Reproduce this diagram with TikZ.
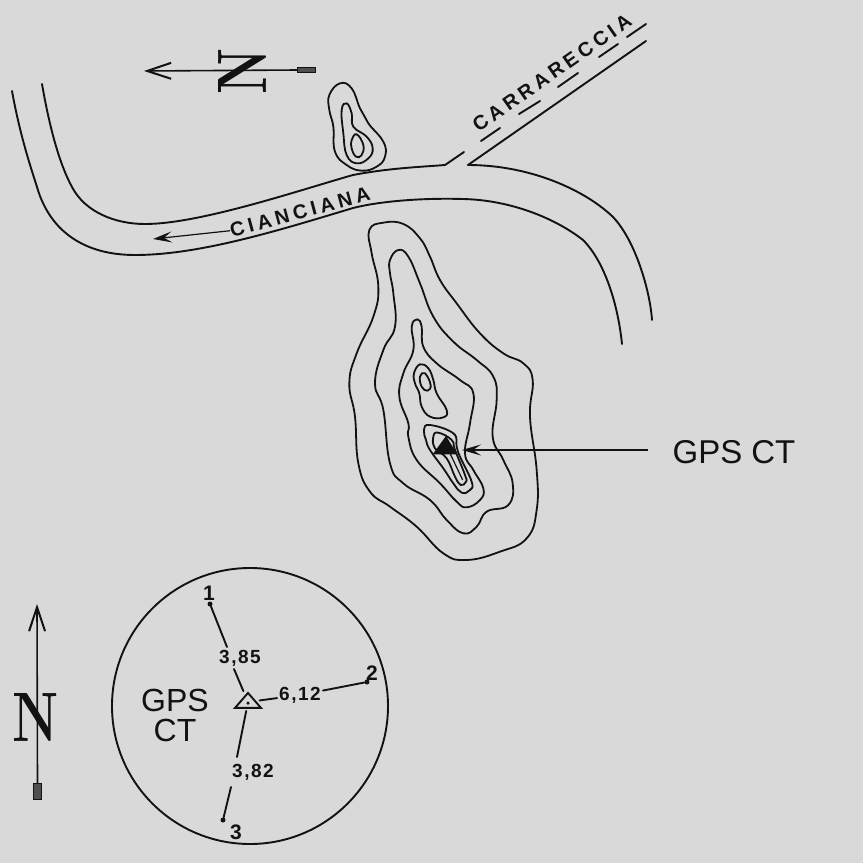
\documentclass[tikz,border=0pt]{standalone}
\usepackage{fontspec}
\usepackage{tikz}
\usetikzlibrary{arrows.meta,shapes.geometric}
\setmainfont{Liberation Sans}
\newfontfamily\spacedfont[LetterSpace=20]{Liberation Sans}
\newfontfamily\numfont[LetterSpace=8]{Liberation Sans}
\newfontfamily\northfont{Latin Modern Roman}
\definecolor{paper}{RGB}{217,217,217}
\definecolor{ink}{RGB}{18,18,18}

\begin{document}
\begin{tikzpicture}[x=1pt, y=-1pt]
\tikzset{line/.style={draw=ink, line width=1.9pt, line cap=round, tension=0.75}}
\tikzset{contour/.style={line, line width=1.8pt}}
\tikzset{thin line/.style={draw=ink, line width=1.2pt}}
\tikzset{road label/.style={text=ink, font=\spacedfont\bfseries\fontsize{20}{20}\selectfont, inner sep=0pt}}
\tikzset{big label/.style={text=ink, font=\fontsize{33}{33}\selectfont, inner sep=0pt, align=center}}
\tikzset{dist label/.style={text=ink, font=\numfont\bfseries\fontsize{19}{19}\selectfont, inner sep=2pt}}
\tikzset{point label/.style={text=ink, font=\bfseries\fontsize{21}{21}\selectfont, inner sep=0pt}}
\tikzset{point/.style={circle, fill=ink, inner sep=0pt, minimum size=5pt}}
\tikzset{north label/.style={text=ink, font=\northfont\bfseries\fontsize{70}{70}\selectfont, inner sep=0pt}}
\tikzset{feather/.style={fill=ink!70!paper, draw=ink, line width=0.6pt}}
\tikzset{barb/.style={-{Straight Barb[length=24pt, width=16pt, line width=2pt]}}}
\tikzset{solid tip/.style={-{Stealth[length=19pt, width=11pt, inset=8pt]}}}

\fill[paper] (0,0) rectangle (863,863);
\useasboundingbox (0,0) rectangle (863,863);

% roads
\draw[line] (42,84) .. controls (50,130) and (60,165) .. (72,187)
  .. controls (85,212) and (115,224) .. (145,224)
  .. controls (200,224) and (300,190) .. (353,175)
  .. controls (390,168) and (420,167) .. (445,165) -- (464,152);
\draw[line] (12,91) .. controls (20,135) and (30,165) .. (37,187)
  .. controls (50,232) and (85,255) .. (135,255)
  .. controls (200,255) and (280,230) .. (353,208)
  .. controls (385,200) and (430,198) .. (463,199)
  .. controls (510,200) and (555,218) .. (583,240)
  .. controls (605,262) and (618,305) .. (622,344);
\draw[line] (468,165) .. controls (530,165) and (585,190) .. (613,217)
  .. controls (635,240) and (650,290) .. (652,320);
\draw[line] (468,165) -- (646,41);
\foreach \xa/\ya/\xb/\yb in {481/141/500/128, 519/114/540/101, 558/87/578/73, 599/57/618/44, 627/37/646/24}
  \draw[line] (\xa,\ya) -- (\xb,\yb);

\node[road label, rotate=35] (carrareccia) at (552,73) {CARRARECCIA};
\node[road label, rotate=15] (cianciana) at (300,212) {CIANCIANA};
\coordinate (roadtip) at (153,239);
\draw[thin line, solid tip] (cianciana.west) -- (roadtip);

% small hill
\begin{scope}[shift={(120,20)}, scale=1/3]
\draw[contour] plot[smooth cycle] coordinates {(628,225) (660,190) (695,205) (720,265) (745,310)
  (790,365) (795,410) (770,440) (725,452) (680,435) (645,395) (640,320) (628,270)};
\draw[contour] plot[smooth cycle] coordinates {(665,270) (680,250) (695,280) (700,320) (740,350)
  (758,385) (745,415) (710,430) (680,405) (670,340)};
\draw[contour] plot[smooth cycle] coordinates {(710,343) (730,375) (725,405) (708,410) (695,385) (695,360)};
\end{scope}

% big hill
\begin{scope}[shift={(340,210)}, scale=1/3]
\draw[contour] plot[smooth cycle] coordinates {(88,60) (130,38) (190,42) (240,85) (270,140) (300,210)
  (350,280) (420,370) (490,430) (550,460) (578,510) (570,620) (590,780) (590,900) (560,985)
  (480,1025) (380,1050) (310,1030) (230,950) (150,890) (90,845) (55,760) (45,620) (28,520)
  (50,430) (100,320) (115,230) (95,130)};
\draw[contour] plot[smooth cycle] coordinates {(150,150) (175,120) (205,140) (240,220) (280,320)
  (340,395) (410,450) (460,500) (470,570) (458,680) (490,750) (518,820) (505,885) (440,905)
  (410,950) (370,970) (320,930) (270,870) (190,820) (150,760) (130,600) (105,520) (130,420)
  (165,350) (160,250) (150,190)};
\draw[contour] plot[smooth cycle] coordinates {(215,350) (232,328) (245,350) (250,410) (290,460)
  (360,510) (400,550) (390,640) (375,730) (400,780) (430,835) (420,870) (380,892) (350,875)
  (300,820) (230,750) (205,680) (205,640) (178,560) (190,490) (220,420)};
\draw[contour] plot[smooth cycle] coordinates {(222,490) (240,463) (265,475) (280,510) (290,550)
  (320,600) (310,622) (270,620) (245,590) (238,550) (225,520)};
\draw[contour] plot[smooth cycle] coordinates {(240,500) (255,490) (272,525) (262,542) (245,530)};
\draw[contour] plot[smooth cycle] coordinates {(252,660) (270,645) (340,670) (350,710) (360,740)
  (395,815) (390,840) (365,848) (340,820) (310,775) (270,720) (258,690)};
\draw[contour] plot[smooth cycle] coordinates {(280,680) (295,668) (335,690) (345,720) (375,795)
  (378,815) (362,825) (345,800) (320,745) (285,715)};
\fill[ink] (278,733) -- (318,678) -- (352,733) -- cycle;
\draw[thin line] (330,730) -- (368,810);
\end{scope}

% station label
\node[big label] (gpsct) at (734,452) {GPS CT};
\coordinate (station) at (462,450);
\coordinate (stationtail) at (648,450);
\draw[thin line, solid tip] (stationtail) -- (station);

% north signs
\node[north label, rotate=90, xscale=0.75] (northtop) at (242,71) {N};
\coordinate (toptip) at (144,71);
\node[feather, minimum width=18pt, minimum height=5pt, inner sep=0pt] (topfeather) at (306,70) {};
\draw[line, line width=1.6pt, barb] (topfeather.west) -- (toptip);

\node[north label, xscale=0.75] (northleft) at (36,717) {N};
\coordinate (lefttip) at (37,604);
\node[feather, minimum width=8pt, minimum height=16pt, inner sep=0pt] (leftfeather) at (37.5,791) {};
\draw[line, line width=1.6pt, barb] (leftfeather.north) -- (lefttip);

% station sketch
\node[draw=ink, line width=1.9pt, circle, minimum size=276pt, inner sep=0pt] (sketch) at (250,706) {};
\node[big label, font=\fontsize{32}{30}\selectfont] (gpsleft) at (175,715) {GPS\\CT};
\node[draw=ink, line width=1.9pt, isosceles triangle, isosceles triangle stretches,
  shape border rotate=90, minimum width=26pt, minimum height=15pt, inner sep=0pt, outer sep=3pt] (tri) at (248,702) {};
\node[point, minimum size=3.5pt] (tridot) at (248,703) {};

\node[point] (p1) at (210,604) {};
\node[point] (p2) at (367,682) {};
\node[point] (p3) at (223,820) {};
\node[point label] (n1) at (209,593) {1};
\node[point label] (n2) at (372,673) {2};
\node[point label] (n3) at (236,832) {3};

\node[dist label] (d1) at (240,658) {3,85};
\node[dist label] (d2) at (300,695) {6,12};
\node[dist label] (d3) at (253,772) {3,82};
\coordinate (d1low) at (234,669);
\coordinate (d1up) at (227,647);
\coordinate (d3low) at (231,787);
\coordinate (d3up) at (237,757);

\draw[line] (p1) -- (d1up);
\draw[line] (d1low) -- (tri);
\draw[line] (tri) -- (d2);
\draw[line] (d2) -- (p2);
\draw[line] (tri) -- (d3up);
\draw[line] (d3low) -- (p3);
\end{tikzpicture}
\end{document}
